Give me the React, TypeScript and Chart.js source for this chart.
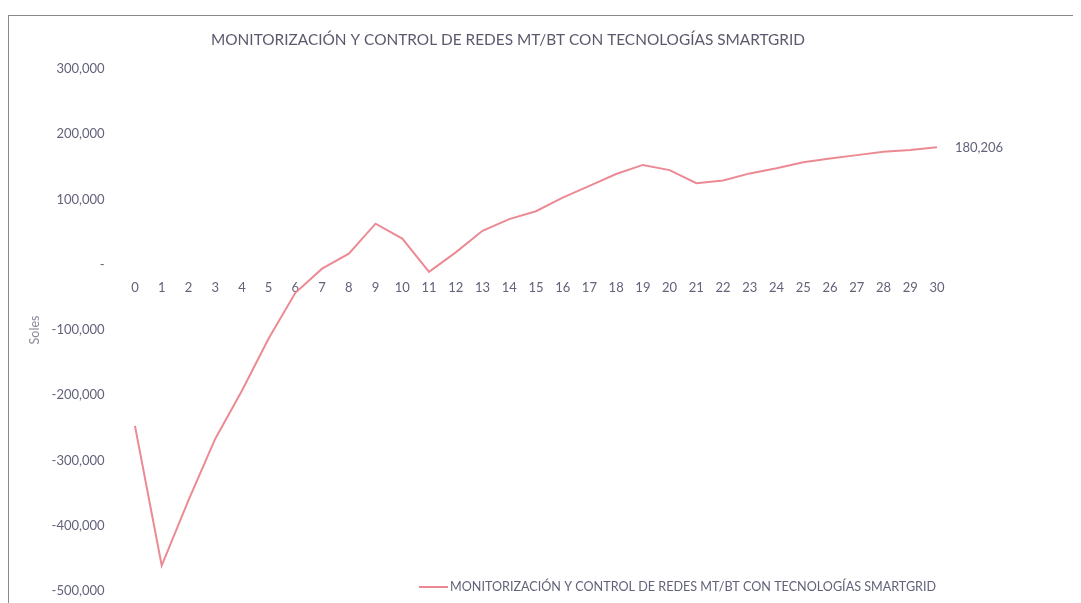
import React, { useEffect, useRef } from "react";
import { Chart, registerables } from "chart.js";

Chart.register(...registerables);

const TITLE = "MONITORIZACIÓN Y CONTROL DE REDES MT/BT CON TECNOLOGÍAS SMARTGRID";
const SERIES_NAME = "MONITORIZACIÓN Y CONTROL DE REDES MT/BT CON TECNOLOGÍAS SMARTGRID";
const Y_TITLE = "Soles";

const years = [
  "0", "1", "2", "3", "4", "5", "6", "7", "8", "9", "10",
  "11", "12", "13", "14", "15", "16", "17", "18", "19", "20",
  "21", "22", "23", "24", "25", "26", "27", "28", "29", "30",
];

const flujoAcumulado = [
  -247000, -461000, -361000, -267000, -193000, -113000, -43000, -6000, 17000, 63000, 40000,
  -11000, 19000, 52000, 70000, 82000, 103000, 121000, 139000, 153000, 145000,
  125000, 129000, 140000, 148000, 157000, 163000, 168000, 173000, 176000, 180206,
];

const Y_MIN = -500000;
const Y_MAX = 300000;
const Y_STEP = 100000;

const LINE_COLOR = "#ec8a94";
const TEXT_COLOR = "#62627a";
const FONT = "Lato, 'Open Sans', sans-serif";

const fmt = (v: number) => Math.round(v).toLocaleString("en-US");

export default function App() {
  const ref = useRef<HTMLCanvasElement | null>(null);

  useEffect(() => {
    document.documentElement.style.overflow = "hidden";
    document.body.style.overflow = "hidden";
    if (!ref.current) return;

    const overlay = {
      id: "overlay",
      afterDraw(chart: any) {
        const ctx = chart.ctx as CanvasRenderingContext2D;
        ctx.save();
        // title
        ctx.fillStyle = "#5a5a6c";
        ctx.font = `15.4px ${FONT}`;
        ctx.textAlign = "center";
        ctx.textBaseline = "middle";
        ctx.fillText(TITLE, 500, 32);

        // last-point data label
        const meta = chart.getDatasetMeta(0);
        const last = meta.data[meta.data.length - 1];
        ctx.font = `13px ${FONT}`;
        ctx.fillStyle = TEXT_COLOR;
        ctx.textAlign = "left";
        ctx.fillText(fmt(flujoAcumulado[flujoAcumulado.length - 1]), last.x + 18, last.y + 1);

        // legend (overlaid like the original)
        const ly = 579;
        ctx.strokeStyle = LINE_COLOR;
        ctx.lineWidth = 2;
        ctx.beginPath();
        ctx.moveTo(411, ly);
        ctx.lineTo(440, ly);
        ctx.stroke();
        ctx.font = `12.6px ${FONT}`;
        ctx.fillStyle = TEXT_COLOR;
        ctx.textAlign = "left";
        ctx.fillText(SERIES_NAME, 442, ly);
        ctx.restore();
      },
    };

    const chart = new Chart(ref.current, {
      type: "line",
      data: {
        labels: years,
        datasets: [
          {
            label: SERIES_NAME,
            data: flujoAcumulado,
            borderColor: LINE_COLOR,
            backgroundColor: LINE_COLOR,
            borderWidth: 2,
            pointRadius: 0,
            tension: 0,
            clip: false as any,
          },
        ],
      },
      options: {
        animation: false,
        responsive: false,
        devicePixelRatio: 1,
        layout: { padding: { left: 0, right: 130.7, top: 61, bottom: 12 } },
        plugins: {
          legend: { display: false },
          title: { display: false },
          tooltip: { enabled: false },
        },
        scales: {
          x: {
            type: "category",
            position: { y: 0 } as any,
            offset: true,
            grid: { display: false, drawTicks: false },
            border: { display: false },
            ticks: {
              color: TEXT_COLOR,
              font: { family: FONT, size: 13 },
              padding: 15,
              maxRotation: 0,
              autoSkip: false,
            },
            afterFit: (scale: any) => {
              scale.height = 0;
            },
          },
          y: {
            min: Y_MIN,
            max: Y_MAX,
            grid: { display: false, drawTicks: false },
            border: { display: false },
            ticks: {
              stepSize: Y_STEP,
              color: TEXT_COLOR,
              font: { family: FONT, size: 13 },
              padding: 17,
              callback: (v: any) => (Number(v) === 0 ? "-" : fmt(Number(v))),
            },
            title: {
              display: true,
              text: Y_TITLE,
              color: "#8a8a98",
              font: { family: FONT, size: 12.5 },
              padding: { top: 19, bottom: 0 },
            },
            afterFit: (scale: any) => {
              scale.width = 113.6;
              scale.paddingTop = 0;
              scale.paddingBottom = 0;
            },
          },
        },
      },
      plugins: [overlay],
    });

    return () => chart.destroy();
  }, []);

  return (
    <div style={{ position: "relative", width: 1073, height: 595, overflow: "hidden", background: "#fff" }}>
      <div
        style={{
          position: "absolute",
          top: 7,
          left: 0,
          width: 1100,
          height: 700,
          borderTop: "1.5px solid #8a8a8a",
          borderLeft: "1.5px solid #8a8a8a",
          boxSizing: "border-box",
        }}
      />
      <canvas
        ref={ref}
        width={1073}
        height={595}
        style={{ position: "absolute", top: 0, left: 0, display: "block", width: 1073, height: 595 }}
      />
    </div>
  );
}
